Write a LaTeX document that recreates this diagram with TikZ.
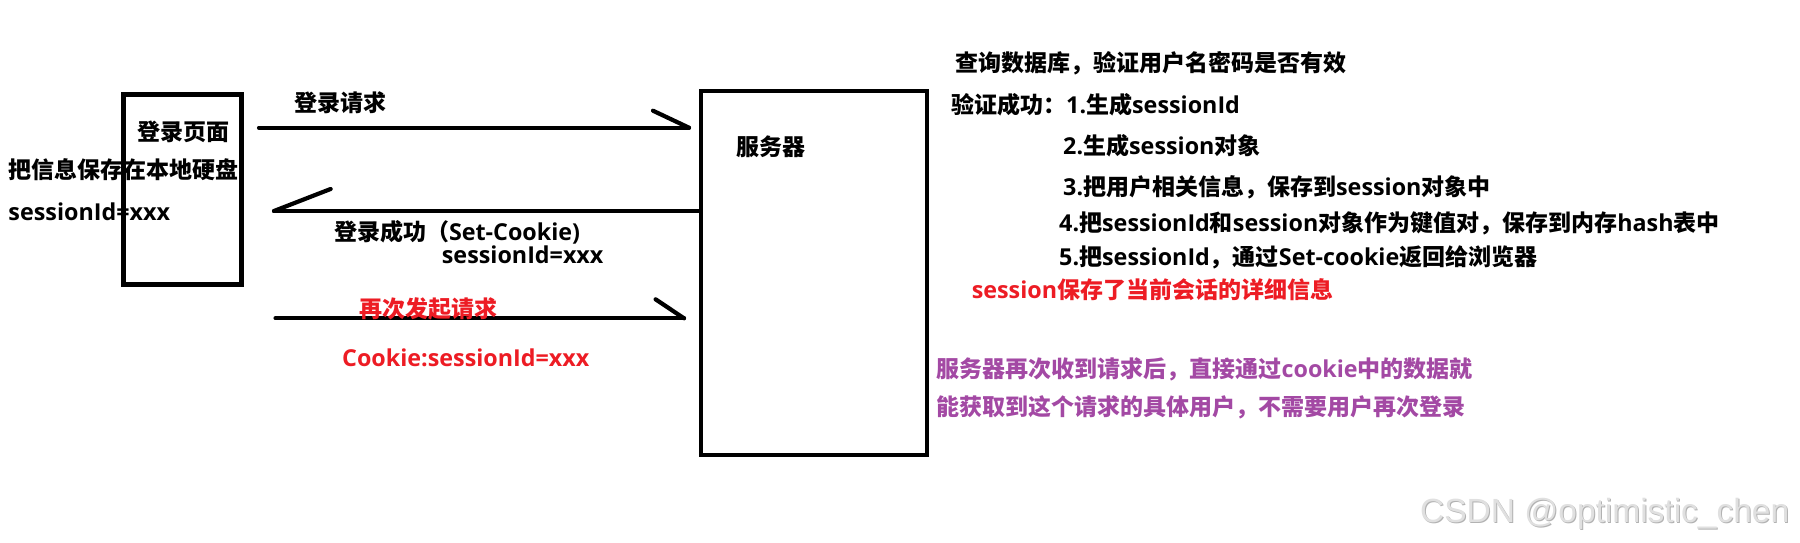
\documentclass[tikz,border=0pt]{standalone}
\usepackage{fontspec}
\newfontfamily\cjk{Noto Sans CJK SC}
\newfontfamily\lat{Open Sans}
\newfontfamily\wmfont{Liberation Sans}
\newcommand\ltn[1]{{\lat\fontsize{23.3}{23.3}\selectfont #1}}
\definecolor{rd}{HTML}{ED1C24}
\definecolor{pu}{HTML}{A349A4}
\begin{document}
\begin{tikzpicture}[x=1pt,y=-1pt,
  txt/.style={font=\cjk\bfseries\fontsize{23}{23}\selectfont, inner sep=0pt, anchor=base west},
  boxnode/.style={draw, line width=4.5pt, inner sep=0pt},
  conn/.style={line width=4.2pt, line cap=round}]
\useasboundingbox[fill=white] (0,0) rectangle (1800,542);

% boxes
\node[boxnode, minimum width=118pt, minimum height=190pt] (login) at (182.5,189.6) {};
\node[boxnode, minimum width=226pt, minimum height=364pt] (server) at (814,273) {};

% left texts
\node[txt] (tlogin) at (137,140.5) {登录页面};
\node[txt] (tsave) at (8.3,178.5) {把信息保存在本地硬盘};
\node[txt] (tsid) at (8.3,220) {\ltn{sessionId=xxx}};
\node[txt] (tserver) at (736.6,155) {服务器};

% arrow 1
\coordinate (a1s) at (259,127.7);
\coordinate (a1e) at (689,127.7);
\coordinate (a1b) at (653,110.7);
\draw[conn] (a1s) -- (a1e);
\draw[conn] (a1b) -- (a1e);
\node[txt] (treq) at (294,111.5) {登录请求};

% arrow 2
\coordinate (a2e) at (274,211);
\coordinate (a2b) at (330.6,189);
\draw[conn] (server.west |- a2e) -- (a2e);
\draw[conn] (a2b) -- (a2e);
\node[txt] (tok) at (333.8,240) {登录成功（\ltn{Set-Cookie)}};
\node[txt] (tok2) at (441.7,263) {\ltn{sessionId=xxx}};

% arrow 3
\coordinate (a3s) at (275.5,318.3);
\coordinate (a3e) at (684,318.3);
\coordinate (a3b) at (655.6,299.3);
\draw[conn] (a3s) -- (a3e);
\draw[conn] (a3b) -- (a3e);
\node[txt, text=rd] (tagain) at (359.5,317.5) {再次发起请求};
\node[txt, text=rd] (tcookie) at (342,366) {\ltn{Cookie:sessionId=xxx}};

% right texts
\node[txt] (r0) at (954.8,71.2) {查询数据库，验证用户名密码是否有效};
\node[txt] (r1) at (951,113.5) {验证成功：\ltn{1.}生成\ltn{sessionId}};
\node[txt] (r2) at (1063,154.5) {\ltn{2.}生成\ltn{session}对象};
\node[txt] (r3) at (1063,195.2) {\ltn{3.}把用户相关信息，保存到\ltn{session}对象中};
\node[txt] (r4) at (1059,231.2) {\ltn{4.}把\ltn{sessionId}和\ltn{session}对象作为键值对，保存到内存\ltn{hash}表中};
\node[txt] (r5) at (1059,265.2) {\ltn{5.}把\ltn{sessionId}，通过\ltn{Set-cookie}返回给浏览器};
\node[txt, text=rd] (r6) at (971.6,298.5) {\ltn{session}保存了当前会话的详细信息};
\node[txt, text=pu] (p1) at (936.4,377.8) {服务器再次收到请求后，直接通过\ltn{cookie}中的数据就};
\node[txt, text=pu] (p2) at (936.4,415) {能获取到这个请求的具体用户，不需要用户再次登录};

% watermark
\node[inner sep=0pt, anchor=base west, font=\wmfont\fontsize{33.5}{33.5}\selectfont, text=black!30] (wm0) at (1421,523) {CSDN @optimistic\_chen};
\node[inner sep=0pt, anchor=base west, font=\wmfont\fontsize{33.5}{33.5}\selectfont, text=black!12] (wm) at (1420,522) {CSDN @optimistic\_chen};
\end{tikzpicture}
\end{document}
